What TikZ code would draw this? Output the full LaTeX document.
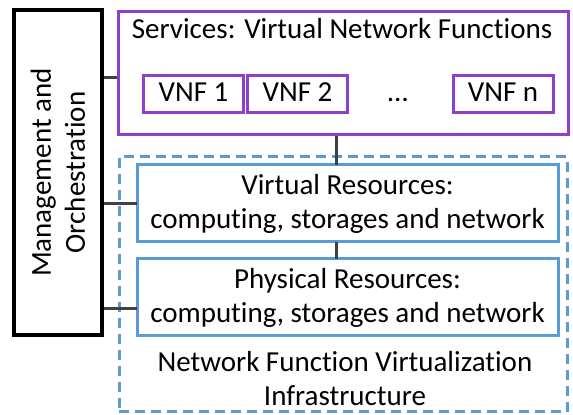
\documentclass[tikz,border=0pt]{standalone}
\usepackage{fontspec}
\setmainfont{Carlito}[Ligatures=NoCommon]
\usepackage{tikz}
\usetikzlibrary{positioning,calc}
\definecolor{vnfpurple}{RGB}{144,64,200}
\definecolor{nfviblue}{RGB}{91,155,213}
\definecolor{linkgray}{RGB}{64,64,64}
\tikzstyle{link}=[draw=linkgray,line width=3pt]
\tikzstyle{block}=[draw=black,line width=4pt]
\def\vnfwidth{100pt}
\def\vnfheight{37pt}
\def\reswidth{421pt}
\def\resheight{77pt}
\tikzstyle{vnf}=[draw=vnfpurple,line width=3pt,inner sep=0pt,outer sep=0pt,
    minimum width=\vnfwidth, minimum height=\vnfheight,
    text height=20pt, text depth=6pt]
\tikzstyle{resource}=[draw=nfviblue,line width=3pt,inner sep=0pt,outer sep=0pt,
    align=center, minimum width=\reswidth, minimum height=\resheight]
\tikzstyle{label}=[inner sep=0pt, align=center]

\begin{document}
\begin{tikzpicture}[x=1pt,y=1pt,font=\fontsize{29}{34}\selectfont]
    \useasboundingbox (0,0) rectangle (573,415);
    % management block
    \node[block, rotate=90, minimum width=325pt, minimum height=88pt, inner sep=0pt, align=center]
        (mano) at (58,242.5) {Management and\\Orchestration};
    % services
    \node[draw=vnfpurple, line width=3pt, minimum width=450pt, minimum height=123pt, inner sep=0pt]
        (services) at (343,341.5) {};
    \node[label] (servtitle) at (342,386) {Services: Virtual Network Functions};
    \node[vnf] (vnf1) at (193.5,320.5) {VNF 1};
    \node[vnf, right=4pt of vnf1] (vnf2) {VNF 2};
    \node[vnf] (vnfn) at (503,320.5) {VNF n};
    \node[vnf, draw=none] (dots) at (398,320.5) {…};
    % infrastructure
    \node[draw=nfviblue, line width=3pt, dash pattern=on 10pt off 6pt,
        minimum width=448pt, minimum height=255pt, inner sep=0pt] (nfvi) at (343,130.5) {};
    \node[resource] (virt) at (347.5,211.5) {Virtual Resources:\\computing, storages and network};
    \node[resource, below=17pt of virt] (phys) {Physical Resources:\\computing, storages and network};
    \node[label] (nfvitext) at (345,36) {Network Function Virtualization\\Infrastructure};
    % links
    \coordinate (downlink) at ([xshift=-7pt]services.south);
    \coordinate (physlink) at ([yshift=-11pt]phys.west);
    \coordinate (servlink) at ([yshift=-4pt]services.west);
    \draw[link] (downlink) -- (downlink |- virt.north);
    \draw[link] (downlink |- virt.south) -- (downlink |- phys.north);
    \draw[link] (servlink) -- (servlink -| mano.south);
    \draw[link] (virt.west) -- (virt.west -| mano.south);
    \draw[link] (physlink) -- (physlink -| mano.south);
\end{tikzpicture}
\end{document}
